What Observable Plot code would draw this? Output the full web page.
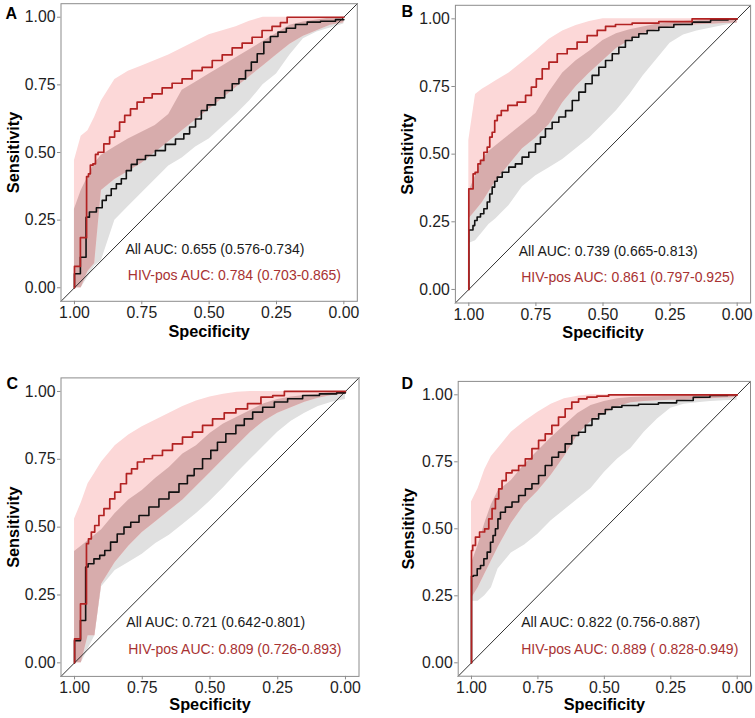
<!DOCTYPE html>
<html><head><meta charset="utf-8">
<script src="https://cdn.jsdelivr.net/npm/d3@7"></script>
<script src="https://cdn.jsdelivr.net/npm/@observablehq/plot@0.6"></script>
<style>
html,body{margin:0;padding:0;background:#fff;}
#fig{position:relative;width:755px;height:718px;overflow:hidden;background:#fff;}
#fig .panel{position:absolute;}
#fig svg{overflow:visible;}
#fig svg g[aria-label="x-axis"] line, #fig svg g[aria-label="y-axis"] line,
#fig svg g[aria-label="x-axis tick"], #fig svg g[aria-label="y-axis tick"]{stroke:#8c8c8c;}
</style></head><body><div id="fig"></div>
<script>
// ---------- data ----------
const panelLetters = ["A", "B", "C", "D"];
const tickValues = [1, 0.75, 0.5, 0.25, 0];
const allLabels = ["All AUC: 0.655 (0.576-0.734)", "All AUC: 0.739 (0.665-0.813)", "All AUC: 0.721 (0.642-0.801)", "All AUC: 0.822 (0.756-0.887)"];
const hivLabels = ["HIV-pos AUC: 0.784 (0.703-0.865)", "HIV-pos AUC: 0.861 (0.797-0.925)", "HIV-pos AUC: 0.809 (0.726-0.893)", "HIV-pos AUC: 0.889 ( 0.828-0.949)"];

// specificity grid of the confidence bands
const bandSpec = [1, 0.975, 0.95, 0.925, 0.9, 0.85, 0.8, 0.75, 0.7, 0.65, 0.6, 0.55, 0.5, 0.45, 0.4, 0.35, 0.3, 0.25, 0.2, 0.15, 0.1, 0.05, 0];

// Panel A
const aAllLo = [0, 0, 0.04, 0.08, 0.10, 0.25, 0.30, 0.35, 0.40, 0.45, 0.48, 0.52, 0.55, 0.595, 0.64, 0.69, 0.75, 0.79, 0.86, 0.92, 0.945, 0.96, 0.975];
const aAllHi = [0.29, 0.36, 0.41, 0.46, 0.49, 0.52, 0.55, 0.575, 0.60, 0.64, 0.73, 0.76, 0.79, 0.82, 0.85, 0.88, 0.91, 0.94, 0.97, 0.982, 0.99, 0.997, 1.0];
const aHivLo = [0, 0, 0.06, 0.09, 0.36, 0.40, 0.43, 0.46, 0.50, 0.54, 0.58, 0.62, 0.66, 0.70, 0.74, 0.78, 0.82, 0.86, 0.90, 0.93, 0.95, 0.97, 0.98];
const aHivHi = [0.47, 0.56, 0.58, 0.63, 0.69, 0.77, 0.80, 0.82, 0.84, 0.86, 0.885, 0.91, 0.935, 0.95, 0.965, 0.985, 1, 1, 1, 1, 1, 1, 1];
const aAllSpec = [1, 1, 0.978, 0.978, 0.957, 0.957, 0.955, 0.934, 0.903, 0.891, 0.873, 0.854, 0.835, 0.817, 0.798, 0.780, 0.755, 0.718, 0.681, 0.644, 0.606, 0.582, 0.563, 0.538, 0.520, 0.495, 0.458, 0.427, 0.402, 0.377, 0.353, 0.334, 0.309, 0.285, 0.260, 0.229, 0.198, 0.161, 0.111, 0.062, 0];
const aAllSens = [0, 0.052, 0.052, 0.113, 0.113, 0.26, 0.261, 0.280, 0.296, 0.323, 0.341, 0.366, 0.384, 0.403, 0.433, 0.456, 0.474, 0.489, 0.507, 0.530, 0.550, 0.569, 0.594, 0.624, 0.655, 0.676, 0.702, 0.729, 0.754, 0.772, 0.803, 0.834, 0.865, 0.908, 0.929, 0.945, 0.959, 0.973, 0.982, 0.985, 0.991];
const aHivSpec = [1, 1, 0.978, 0.978, 0.955, 0.955, 0.941, 0.941, 0.922, 0.922, 0.903, 0.879, 0.860, 0.842, 0.823, 0.804, 0.780, 0.755, 0.730, 0.693, 0.656, 0.619, 0.582, 0.545, 0.507, 0.470, 0.433, 0.396, 0.359, 0.322, 0.285, 0.248, 0.223, 0.198, 0];
const aHivSens = [0, 0.079, 0.079, 0.185, 0.185, 0.411, 0.421, 0.453, 0.458, 0.493, 0.501, 0.532, 0.557, 0.579, 0.612, 0.637, 0.661, 0.686, 0.702, 0.717, 0.739, 0.756, 0.772, 0.803, 0.815, 0.840, 0.861, 0.887, 0.904, 0.926, 0.951, 0.966, 0.980, 1.0, 1.0];

// Panel B
const bAllLo = [0.17, 0.18, 0.21, 0.24, 0.26, 0.31, 0.38, 0.42, 0.45, 0.48, 0.52, 0.56, 0.61, 0.66, 0.72, 0.79, 0.85, 0.91, 0.94, 0.955, 0.965, 0.975, 0.985];
const bAllHi = [0.36, 0.42, 0.48, 0.51, 0.53, 0.57, 0.61, 0.65, 0.73, 0.80, 0.845, 0.88, 0.92, 0.945, 0.96, 0.97, 0.98, 0.985, 0.99, 0.993, 0.996, 0.998, 1.0];
const bHivLo = [0.26, 0.29, 0.32, 0.36, 0.40, 0.46, 0.52, 0.56, 0.61, 0.69, 0.75, 0.80, 0.845, 0.89, 0.92, 0.945, 0.96, 0.97, 0.975, 0.978, 0.98, 0.983, 0.985];
const bHivHi = [0.55, 0.72, 0.74, 0.755, 0.77, 0.80, 0.84, 0.88, 0.925, 0.955, 0.975, 0.99, 1, 1, 1, 1, 1, 1, 1, 1, 1, 1, 1];
const bAllSpec = [1, 1, 0.988, 0.981, 0.975, 0.963, 0.950, 0.938, 0.925, 0.919, 0.907, 0.900, 0.888, 0.863, 0.839, 0.814, 0.789, 0.764, 0.739, 0.727, 0.702, 0.677, 0.652, 0.627, 0.602, 0.578, 0.553, 0.528, 0.503, 0.478, 0.453, 0.429, 0.404, 0.379, 0.354, 0.317, 0.267, 0.205, 0.130, 0.068, 0];
const bAllSens = [0, 0.22, 0.22, 0.236, 0.255, 0.268, 0.28, 0.298, 0.323, 0.353, 0.378, 0.40, 0.415, 0.433, 0.452, 0.464, 0.489, 0.507, 0.538, 0.563, 0.594, 0.618, 0.637, 0.661, 0.698, 0.729, 0.760, 0.791, 0.821, 0.846, 0.871, 0.895, 0.92, 0.932, 0.945, 0.957, 0.969, 0.979, 0.988, 0.996, 1.0];
const bHivSpec = [1, 1, 0.984, 0.984, 0.969, 0.963, 0.950, 0.938, 0.925, 0.919, 0.907, 0.900, 0.888, 0.870, 0.839, 0.801, 0.776, 0.758, 0.739, 0.714, 0.689, 0.652, 0.615, 0.578, 0.540, 0.503, 0.478, 0.429, 0.354, 0.230, 0.106, 0];
const bHivSens = [0, 0.372, 0.372, 0.427, 0.433, 0.464, 0.477, 0.507, 0.526, 0.563, 0.581, 0.624, 0.643, 0.661, 0.680, 0.692, 0.717, 0.748, 0.778, 0.815, 0.840, 0.871, 0.889, 0.914, 0.938, 0.957, 0.972, 0.979, 0.984, 0.990, 1.0, 1.0];

// Panel C
const cAllLo = [0, 0, 0.05, 0.10, 0.28, 0.34, 0.37, 0.40, 0.44, 0.47, 0.51, 0.55, 0.595, 0.645, 0.70, 0.75, 0.80, 0.85, 0.89, 0.92, 0.945, 0.96, 0.97];
const cAllHi = [0.41, 0.43, 0.45, 0.47, 0.49, 0.55, 0.60, 0.635, 0.68, 0.72, 0.77, 0.80, 0.845, 0.88, 0.905, 0.93, 0.955, 0.97, 0.98, 0.985, 0.99, 0.996, 0.998];
const cHivLo = [0, 0, 0.10, 0.10, 0.29, 0.37, 0.43, 0.48, 0.52, 0.56, 0.60, 0.65, 0.70, 0.75, 0.80, 0.85, 0.89, 0.92, 0.94, 0.96, 0.975, 0.985, 0.99];
const cHivHi = [0.53, 0.59, 0.66, 0.70, 0.74, 0.80, 0.84, 0.87, 0.895, 0.92, 0.945, 0.965, 0.98, 0.99, 0.997, 1, 1, 1, 1, 1, 1, 1, 1];
const cAllSpec = [1, 1, 0.978, 0.978, 0.959, 0.959, 0.941, 0.916, 0.898, 0.879, 0.855, 0.830, 0.805, 0.780, 0.744, 0.707, 0.670, 0.633, 0.596, 0.571, 0.546, 0.509, 0.485, 0.460, 0.423, 0.386, 0.361, 0.324, 0.287, 0.238, 0.189, 0.127, 0.065, 0];
const cAllSens = [0, 0.082, 0.082, 0.156, 0.156, 0.353, 0.365, 0.383, 0.396, 0.414, 0.445, 0.475, 0.50, 0.518, 0.543, 0.574, 0.604, 0.629, 0.66, 0.69, 0.715, 0.752, 0.783, 0.813, 0.844, 0.875, 0.899, 0.924, 0.942, 0.961, 0.973, 0.985, 0.991, 0.995];
const cHivSpec = [1, 1, 0.978, 0.978, 0.956, 0.956, 0.941, 0.935, 0.916, 0.904, 0.879, 0.861, 0.842, 0.818, 0.799, 0.780, 0.756, 0.731, 0.694, 0.657, 0.620, 0.583, 0.546, 0.509, 0.472, 0.423, 0.386, 0.337, 0.287, 0.250, 0.201, 0];
const cHivSens = [0, 0.088, 0.088, 0.217, 0.217, 0.439, 0.457, 0.482, 0.506, 0.543, 0.568, 0.604, 0.629, 0.66, 0.697, 0.715, 0.74, 0.752, 0.764, 0.783, 0.807, 0.832, 0.85, 0.875, 0.899, 0.921, 0.936, 0.955, 0.979, 0.985, 1.0, 1.0];

// Panel D
const dAllLo = [0.23, 0.23, 0.25, 0.28, 0.35, 0.41, 0.44, 0.48, 0.53, 0.57, 0.61, 0.65, 0.71, 0.76, 0.80, 0.86, 0.91, 0.95, 0.965, 0.97, 0.975, 0.978, 0.98];
const dAllHi = [0.37, 0.44, 0.52, 0.59, 0.64, 0.68, 0.74, 0.79, 0.84, 0.885, 0.93, 0.96, 0.975, 0.985, 0.99, 0.992, 0.993, 0.995, 0.996, 0.997, 0.998, 0.999, 1.0];
const dHivLo = [0.24, 0.28, 0.33, 0.38, 0.43, 0.52, 0.59, 0.64, 0.70, 0.77, 0.85, 0.90, 0.93, 0.955, 0.97, 0.975, 0.978, 0.98, 0.98, 0.983, 0.985, 0.988, 0.99];
const dHivHi = [0.60, 0.65, 0.72, 0.77, 0.80, 0.86, 0.90, 0.935, 0.965, 0.985, 0.995, 1, 1, 1, 1, 1, 1, 1, 1, 1, 1, 1, 1];
const dAllSpec = [1, 1, 0.985, 0.972, 0.960, 0.947, 0.935, 0.922, 0.916, 0.904, 0.897, 0.885, 0.860, 0.835, 0.810, 0.785, 0.760, 0.735, 0.710, 0.685, 0.660, 0.635, 0.610, 0.584, 0.559, 0.534, 0.509, 0.484, 0.459, 0.409, 0.334, 0.259, 0.197, 0.134, 0.071, 0];
const dAllSens = [0, 0.323, 0.326, 0.351, 0.363, 0.388, 0.413, 0.45, 0.475, 0.50, 0.537, 0.562, 0.581, 0.60, 0.624, 0.649, 0.668, 0.699, 0.736, 0.767, 0.786, 0.817, 0.848, 0.86, 0.886, 0.91, 0.929, 0.945, 0.954, 0.96, 0.965, 0.97, 0.979, 0.991, 0.998, 1.0];
const dHivSpec = [1, 1, 0.991, 0.979, 0.960, 0.941, 0.929, 0.916, 0.904, 0.891, 0.879, 0.860, 0.835, 0.810, 0.785, 0.760, 0.735, 0.710, 0.685, 0.660, 0.635, 0.610, 0.584, 0.547, 0.509, 0.459, 0];
const dHivSens = [0, 0.419, 0.438, 0.469, 0.488, 0.50, 0.537, 0.575, 0.612, 0.649, 0.68, 0.709, 0.718, 0.736, 0.761, 0.799, 0.83, 0.854, 0.886, 0.917, 0.948, 0.973, 0.985, 0.991, 0.995, 1.0, 1.0];

// annotation anchor points (specificity, sensitivity)
const allLabelSpec = [0.811, 0.814, 0.809, 0.813];
const allLabelSens = [0.142, 0.142, 0.148, 0.150];
const hivLabelSpec = [0.802, 0.805, 0.802, 0.813];
const hivLabelSens = [0.044, 0.044, 0.050, 0.050];

// ---------- assembly ----------
const panelsData = [
  {allLo: aAllLo, allHi: aAllHi, hivLo: aHivLo, hivHi: aHivHi, allSpec: aAllSpec, allSens: aAllSens, hivSpec: aHivSpec, hivSens: aHivSens},
  {allLo: bAllLo, allHi: bAllHi, hivLo: bHivLo, hivHi: bHivHi, allSpec: bAllSpec, allSens: bAllSens, hivSpec: bHivSpec, hivSens: bHivSens},
  {allLo: cAllLo, allHi: cAllHi, hivLo: cHivLo, hivHi: cHivHi, allSpec: cAllSpec, allSens: cAllSens, hivSpec: cHivSpec, hivSens: cHivSens},
  {allLo: dAllLo, allHi: dAllHi, hivLo: dHivLo, hivHi: dHivHi, allSpec: dAllSpec, allSens: dAllSens, hivSpec: dHivSpec, hivSens: dHivSens}
];

const layout = [
  {left: 0,   top: 0,   width: 377, height: 355, ml: 60.5, mr: 20.2, mt: 3.2,  mb: 54.2, lx: -55.5, ly: 15.1, yl: -42.1, xl: 35.2},
  {left: 377, top: 0,   width: 378, height: 355, ml: 77.9, mr: 4.9,  mt: 4.8,  mb: 52.5, lx: -53.9, ly: 11.9, yl: -42.2, xl: 35.2},
  {left: 0,   top: 355, width: 377, height: 363, ml: 60.5, mr: 18.5, mt: 22.4, mb: 42.1, lx: -54.5, ly: 10.9, yl: -42.1, xl: 33.8},
  {left: 377, top: 355, width: 378, height: 363, ml: 80.7, mr: 5.0,  mt: 25.9, mb: 42.3, lx: -56.7, ly: 7.4,  yl: -44.3, xl: 34.0}
];

const FONT = "'Liberation Sans', Arial, Helvetica, sans-serif";
const GREY = "#e0e0e0", PINK = "#fcd8d8", OVERLAP = "#d7acac";
const fig = document.getElementById("fig");
const fmt = d3.format(".2f");
const xDomain = [1.05, -0.05], yDomain = [-0.05, 1.05];

panelsData.forEach((p, i) => {
  const L = layout[i];
  const band = bandSpec.map((s, k) => {
    const oLo = Math.max(p.allLo[k], p.hivLo[k]);
    const oHi = Math.min(p.allHi[k], p.hivHi[k]);
    return {spec: s, allLo: p.allLo[k], allHi: p.allHi[k], hivLo: p.hivLo[k], hivHi: p.hivHi[k], oLo, oHi: Math.max(oLo, oHi)};
  });
  const allLine = p.allSpec.map((s, k) => ({spec: s, sens: p.allSens[k]}));
  const hivLine = p.hivSpec.map((s, k) => ({spec: s, sens: p.hivSens[k]}));
  const diag = xDomain.map(s => ({spec: s, sens: 1 - s}));

  const chart = Plot.plot({
    width: L.width, height: L.height,
    marginLeft: L.ml, marginRight: L.mr, marginTop: L.mt, marginBottom: L.mb,
    style: {fontFamily: FONT, fontSize: "15.8px", color: "#1e1e1e", background: "transparent", overflow: "visible"},
    x: {domain: xDomain, ticks: tickValues, tickFormat: fmt, tickSize: 3.5, tickPadding: 2, label: null},
    y: {domain: yDomain, ticks: tickValues, tickFormat: fmt, tickSize: 3.5, tickPadding: 2, label: null},
    marks: [
      Plot.areaY(band, {x: "spec", y1: "allLo", y2: "allHi", fill: GREY}),
      Plot.areaY(band, {x: "spec", y1: "hivLo", y2: "hivHi", fill: PINK}),
      Plot.areaY(band, {x: "spec", y1: "oLo", y2: "oHi", fill: OVERLAP}),
      Plot.line(diag, {x: "spec", y: "sens", stroke: "#1a1a1a", strokeWidth: 0.9}),
      Plot.line(allLine, {x: "spec", y: "sens", stroke: "#111111", strokeWidth: 1.6, curve: "step"}),
      Plot.line(hivLine, {x: "spec", y: "sens", stroke: "#b22222", strokeWidth: 1.7, curve: "step"}),
      Plot.frame({stroke: "#8c8c8c"}),
      Plot.text([allLabels[i]], {x: () => allLabelSpec[i], y: () => allLabelSens[i], text: d => d, textAnchor: "start", fontSize: 14, fill: "#1a1a1a"}),
      Plot.text([hivLabels[i]], {x: () => hivLabelSpec[i], y: () => hivLabelSens[i], text: d => d, textAnchor: "start", fontSize: 14, fill: "#a83232"}),
      Plot.text([panelLetters[i]], {text: d => d, frameAnchor: "top-left", dx: L.lx, dy: L.ly, textAnchor: "start", lineAnchor: "bottom", fontSize: 16, fontWeight: "bold", fill: "#000"}),
      Plot.text(["Specificity"], {text: d => d, frameAnchor: "bottom", dy: L.xl, textAnchor: "middle", lineAnchor: "bottom", fontSize: 16.3, fontWeight: "bold", fill: "#000"}),
      Plot.text(["Sensitivity"], {text: d => d, frameAnchor: "left", dx: L.yl, rotate: -90, textAnchor: "middle", lineAnchor: "bottom", fontSize: 16.3, fontWeight: "bold", fill: "#000"})
    ]
  });
  const wrap = document.createElement("div");
  wrap.className = "panel";
  wrap.style.left = L.left + "px";
  wrap.style.top = L.top + "px";
  wrap.appendChild(chart);
  fig.appendChild(wrap);
});
</script></body></html>
